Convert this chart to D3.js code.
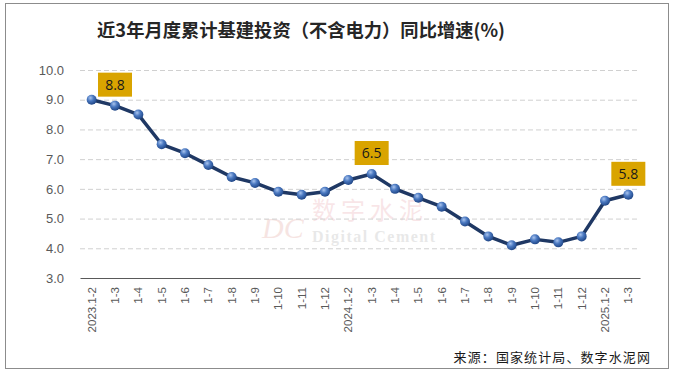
<!DOCTYPE html>
<html><head><meta charset="utf-8">
<script src="https://cdn.jsdelivr.net/npm/d3@7"></script>
<style>body{margin:0;background:#fff}svg{display:block}</style>
</head><body>
<script>
const categories = ["2023.1-2","1-3","1-4","1-5","1-6","1-7","1-8","1-9","1-10","1-11","1-12",
  "2024.1-2","1-3","1-4","1-5","1-6","1-7","1-8","1-9","1-10","1-11","1-12","2025.1-2","1-3"];
const values = [9.0,8.8,8.5,7.5,7.2,6.8,6.4,6.2,5.9,5.8,5.9,6.3,6.5,6.0,5.7,5.4,4.9,4.4,4.1,4.3,4.2,4.4,5.6,5.8];
const yTicks = [3,4,5,6,7,8,9,10];
const labeledIdx = [1,12,23];
const title = "近3年月度累计基建投资（不含电力）同比增速(%)";
const source = "来源：国家统计局、数字水泥网";

const W=675,H=374;
const svg=d3.select("body").append("svg").attr("width",W).attr("height",H);
const defs=svg.append("defs");
const g1=defs.append("radialGradient").attr("id","ball").attr("cx","38%").attr("cy","32%").attr("r","70%");
g1.append("stop").attr("offset","0%").attr("stop-color","#a9c4ee");
g1.append("stop").attr("offset","45%").attr("stop-color","#4a78c0");
g1.append("stop").attr("offset","100%").attr("stop-color","#1f4585");

svg.append("rect").attr("x",5.5).attr("y",3.5).attr("width",663).attr("height",365)
  .attr("fill","#fff").attr("stroke","#8c8c8c").attr("stroke-width",1);

svg.append("text").attr("x",301).attr("y",37).attr("text-anchor","middle")
  .attr("font-family","'Noto Sans CJK SC',sans-serif").attr("font-weight","bold")
  .attr("font-size",18.3).attr("fill","#262626").text(title);

const x=d3.scaleBand().domain(d3.range(categories.length)).range([80,640]);
const y=d3.scaleLinear().domain([3,10]).range([278,70]);

// watermark
const wm=svg.append("g").attr("opacity",0.13);
wm.append("text").attr("x",262).attr("y",238).attr("font-family","'Liberation Serif',serif").attr("font-style","italic")
  .attr("font-size",30).attr("fill","#c0392b").text("DC");
wm.append("text").attr("x",312).attr("y",219).attr("font-family","'Noto Sans CJK SC',sans-serif")
  .attr("font-size",24).attr("fill","#d04050").attr("letter-spacing",5).text("数字水泥");
wm.append("text").attr("x",312).attr("y",242).attr("font-family","'Liberation Serif',serif").attr("font-weight","bold")
  .attr("font-size",16).attr("fill","#555").attr("letter-spacing",1.5).text("Digital Cement");

// grid
svg.append("g").selectAll("line").data(yTicks.filter(d=>d>3)).join("line")
  .attr("x1",80).attr("x2",640).attr("y1",d=>y(d)+0.5).attr("y2",d=>y(d)+0.5)
  .attr("stroke","#d0d0d0").attr("stroke-dasharray","5,3").attr("stroke-width",1);

// y axis
const ya=svg.append("g").attr("transform","translate(80,0)")
  .call(d3.axisLeft(y).tickValues(yTicks).tickFormat(d3.format(".1f")).tickSize(0).tickPadding(16));
ya.select(".domain").remove();
ya.selectAll("text").attr("font-family","'Liberation Sans',Arial,sans-serif").attr("font-size",13).attr("fill","#595959");

// x axis
const xa=svg.append("g").attr("transform","translate(0,278)")
  .call(d3.axisBottom(x).tickFormat(i=>categories[i]).tickSize(0));
xa.select(".domain").attr("stroke","#595959").attr("stroke-width",1.2);
xa.selectAll("text").attr("font-family","'Liberation Sans',Arial,sans-serif").attr("font-size",11.5).attr("fill","#595959")
  .attr("transform","rotate(-90)").attr("text-anchor","end").attr("dx","-9").attr("dy","0.35em").attr("y",0).attr("x",0);

// line
const cx=i=>x(i)+x.bandwidth()/2;
svg.append("path").datum(values).attr("fill","none").attr("stroke","#1f3864").attr("stroke-width",3.5)
  .attr("stroke-linejoin","round")
  .attr("d",d3.line().x((d,i)=>cx(i)).y(d=>y(d)));

svg.append("g").selectAll("circle").data(values).join("circle")
  .attr("cx",(d,i)=>cx(i)).attr("cy",d=>y(d)).attr("r",5)
  .attr("fill","url(#ball)");

// labels
const lg=svg.append("g").selectAll("g").data(labeledIdx).join("g")
  .attr("transform",i=>`translate(${cx(i)},${y(values[i])-21})`);
lg.append("rect").attr("x",-17).attr("y",-12).attr("width",34).attr("height",24).attr("fill","#d9a400");
lg.append("text").attr("text-anchor","middle").attr("dy","0.36em")
  .attr("font-family","'Open Sans','Liberation Sans',sans-serif").attr("font-size",14).attr("fill","#1a1a1a")
  .text(i=>values[i].toFixed(1));

svg.append("text").attr("x",651).attr("y",362).attr("text-anchor","end")
  .attr("font-family","'Noto Sans CJK SC',sans-serif").attr("font-size",13).attr("letter-spacing",1.1).attr("fill","#1a1a1a")
  .text(source);
</script>
</body></html>
